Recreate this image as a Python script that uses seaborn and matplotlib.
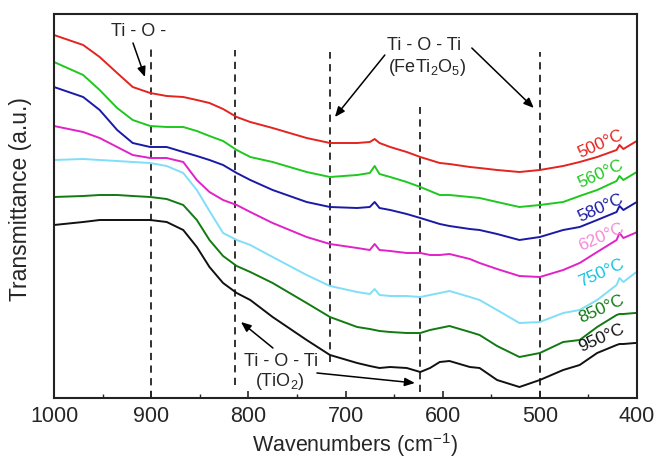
import numpy as np
import pandas as pd
import matplotlib
matplotlib.use("Agg")
import matplotlib.pyplot as plt
import seaborn as sns
from matplotlib.ticker import MultipleLocator

# ---- data (depth below the top of the frame, arbitrary units) ----
wavenumber = [1000, 970, 953, 935, 919, 901, 884, 867, 853, 840, 826, 812, 798, 775, 740, 716,
              688, 675, 670, 665, 654, 637, 623, 613, 603, 593, 572, 562, 544, 521, 500, 476,
              459, 441, 421, 418, 414, 402, 400]

depth_500 = [35, 45, 57, 73, 87, 93, 96, 97, 100, 103, 109, 117, 122, 128, 138, 143,
             143, 142, 139, 143, 147, 152, 157, 160, 163, 164, 167, 168, 170, 172, 170, 166,
             162, 157, 150, 145, 149, 142, 141]
depth_560 = [62, 75, 90, 108, 120, 126, 127, 127, 131, 136, 141, 150, 157, 162, 172, 177,
             175, 173, 166, 174, 177, 182, 187, 191, 195, 195, 197, 198, 202, 207, 205, 202,
             196, 190, 181, 176, 180, 173, 172]
depth_580 = [87, 97, 110, 130, 143, 147, 147, 152, 156, 160, 165, 173, 180, 190, 202, 207,
             208, 207, 202, 208, 210, 214, 218, 221, 224, 226, 229, 230, 234, 240, 237, 230,
             227, 220, 212, 206, 210, 203, 202]
depth_620 = [126, 132, 138, 147, 155, 158, 158, 162, 180, 192, 200, 205, 212, 223, 237, 244,
             248, 250, 244, 250, 251, 253, 253, 255, 255, 254, 259, 263, 269, 276, 277, 270,
             263, 252, 240, 233, 238, 233, 232]
depth_750 = [160, 159, 160, 161, 162, 163, 166, 173, 190, 211, 233, 240, 245, 257, 275, 286,
             292, 294, 289, 295, 296, 296, 297, 295, 293, 291, 297, 300, 310, 323, 322, 313,
             310, 300, 285, 278, 282, 273, 272]
depth_850 = [197, 196, 195, 195, 196, 197, 199, 205, 220, 240, 256, 266, 272, 283, 303, 317,
             327, 329, 330, 331, 332, 333, 333, 330, 328, 326, 332, 335, 346, 357, 353, 342,
             340, 327, 315, 314, 314, 313, 313]
depth_950 = [225, 222, 220, 220, 220, 220, 222, 230, 247, 267, 283, 293, 300, 317, 340, 355,
             363, 366, 367, 368, 367, 368, 372, 368, 362, 361, 367, 368, 380, 387, 380, 370,
             365, 353, 345, 344, 344, 343, 343]

temps = ["500°C", "560°C", "580°C", "620°C", "750°C", "850°C", "950°C"]
series = [depth_500, depth_560, depth_580, depth_620, depth_750, depth_850, depth_950]
line_colors = ["#E3241F", "#1FC81F", "#1A1AA6", "#E022C8", "#80DEF8", "#127A12", "#111111"]
label_colors = ["#E3241F", "#1FC81F", "#1A1AA6", "#F48AD8", "#12C3E0", "#127A12", "#111111"]

# label positions (wavenumber, transmittance)
label_x = [438, 437, 438, 437, 437, 437, 437]
label_y = [256, 226, 192, 163, 127, 91, 62]

# characteristic band positions and the vertical span of their markers
band_pos = [900, 814, 716, 623, 500]
band_top = [355, 350, 348, 293, 348]
band_bot = [2, 15, 38, 8, 2]

# ---- build table ----
rows = []
for t, d in zip(temps, series):
    for w, v in zip(wavenumber, d):
        rows.append({"wavenumber": w, "T": 400 - v, "temp": t})
df = pd.DataFrame(rows)

sns.set_style("white")
plt.rcParams["font.family"] = ["Liberation Sans", "DejaVu Sans"]
plt.rcParams["mathtext.fontset"] = "custom"
plt.rcParams["mathtext.rm"] = "Liberation Sans"
plt.rcParams["mathtext.it"] = "Liberation Sans:italic"

fig = plt.figure(figsize=(6.56, 4.62), dpi=100)
ax = fig.add_axes([54 / 656, 64 / 462, 583 / 656, 384 / 462])

sns.lineplot(data=df, x="wavenumber", y="T", hue="temp", hue_order=temps,
             palette=line_colors, estimator=None, sort=False, legend=False,
             linewidth=1.4, ax=ax)

ax.set_xlim(1000, 400)
ax.set_ylim(2, 386)

for x, y0, y1 in zip(band_pos, band_bot, band_top):
    ax.plot([x, x], [y0, y1], color="#222222", lw=1.3, ls=(0, (4, 3)), zorder=1)

for t, c, x, y in zip(temps, label_colors, label_x, label_y):
    ax.text(x, y, t, color=c, fontsize=12.5, rotation=24, ha="center", va="center",
            rotation_mode="anchor")

arrow = dict(arrowstyle="-|>,head_length=0.6,head_width=0.25", color="black", lw=1.1,
             shrinkA=0, shrinkB=0)
ax.text(912.6, 369, "Ti - O -", fontsize=13, ha="center", va="center")
ax.annotate("", xy=(906.4, 323), xytext=(918.7, 357), arrowprops=arrow)

ax.text(619.3, 355, "Ti - O - Ti", fontsize=13, ha="center", va="center")
ax.text(616.3, 332, "(FeTi$_{\\mathregular{2}}$O$_{\\mathregular{5}}$)", fontsize=13,
        ha="center", va="center")
ax.annotate("", xy=(710.9, 283), xytext=(659.5, 345), arrowprops=arrow)
ax.annotate("", xy=(506.2, 292), xytext=(570, 352), arrowprops=arrow)

ax.text(766.5, 38, "Ti - O - Ti", fontsize=13, ha="center", va="center")
ax.text(767.5, 18, "(TiO$_{\\mathregular{2}}$)", fontsize=13, ha="center", va="center")
ax.annotate("", xy=(807.6, 78), xytext=(774.7, 52), arrowprops=arrow)
ax.annotate("", xy=(628.6, 17), xytext=(729.4, 27), arrowprops=arrow)

ax.xaxis.set_major_locator(MultipleLocator(100))
ax.xaxis.set_minor_locator(MultipleLocator(50))
ax.tick_params(axis="x", which="major", direction="in", length=5, width=1.2,
               labelsize=15.5, pad=6, bottom=True, top=False)
ax.tick_params(axis="x", which="minor", direction="in", length=3, width=1.0,
               bottom=True, top=False)
ax.set_yticks([])
for s in ax.spines.values():
    s.set_color("#222222")
    s.set_linewidth(1.5)

ax.set_xlabel("Wavenumbers (cm$^{\\mathregular{-1}}$)", fontsize=15.5)
ax.xaxis.set_label_coords(0.516, -0.085)
ax.set_ylabel("Transmittance (a.u.)", fontsize=16.5)
ax.yaxis.set_label_coords(-0.038, 0.518)

fig.savefig("out.png", dpi=100)
